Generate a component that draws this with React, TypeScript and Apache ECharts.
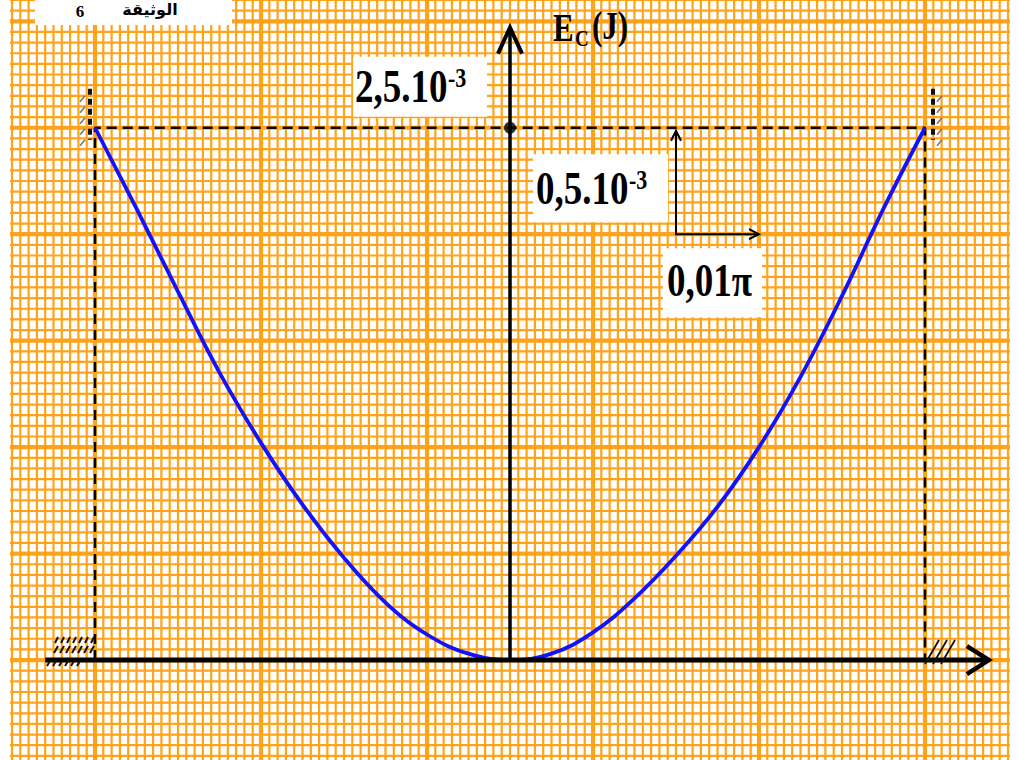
import { useEffect, useRef } from "react";
import * as echarts from "echarts";

// θ in units of 0.01π rad, kinetic energy Ec in units of 10⁻³ J
const thetaUnits = [-5, -4.5, -4, -3.5, -3, -2.5, -2, -1.5, -1, -0.5, 0, 0.5, 1, 1.5, 2, 2.5, 3, 3.5, 4, 4.5, 5];
const ecMilli = [2.5, 2.12, 1.73, 1.35, 1.02, 0.73, 0.48, 0.27, 0.12, 0.03, 0, 0.03, 0.13, 0.29, 0.49, 0.72, 1.0, 1.33, 1.71, 2.12, 2.5];

// Texts
const caption = "الوثيقة";
const captionNumber = "6";
const ecMaxMantissa = "2,5.10";
const ecMaxExponent = "-3";
const yStepMantissa = "0,5.10";
const yStepExponent = "-3";
const xStepLabel = "0,01π";
const yTitleMain = "E";
const yTitleSub = "C";
const yTitleUnit = "(J)";

// Scale key: origin and unit steps (θ in 0.01π, Ec in 10⁻³ J)
const scaleOrigin = [2, 2.0];
const scaleStep = [1, 0.5];

// Visible window of the axes
const X_MIN = -6;
const X_MAX = 6;
const Y_MIN = -0.46;
const Y_MAX = 3.1;

const ORANGE = "#ffa31a";
const SERIF = '"Liberation Serif", "Times New Roman", serif';

export default function App() {
  const ref = useRef<HTMLDivElement>(null);

  useEffect(() => {
    const chart = echarts.init(ref.current!, null, { renderer: "svg" });
    const last = thetaUnits.length - 1;
    const thetaLeft = thetaUnits[0];
    const thetaRight = thetaUnits[last];
    const ecMax = ecMilli[0];

    chart.setOption({
      animation: false,
      backgroundColor: "#ffffff",
      grid: { left: 12, right: 10, top: 0, bottom: 2 },
      xAxis: { type: "value", min: X_MIN, max: X_MAX, show: false },
      yAxis: { type: "value", min: Y_MIN, max: Y_MAX, show: false },
      series: [
        {
          type: "line",
          name: "guides",
          data: [
            [thetaLeft, 0],
            [thetaLeft, ecMax],
            [thetaRight, ecMax],
            [thetaRight, 0],
          ],
          showSymbol: false,
          silent: true,
          z: 3,
          lineStyle: { color: "#000", width: 2.5, type: [10, 6] },
        },
        {
          type: "line",
          name: "Ec",
          data: thetaUnits.map((t, i) => [t, ecMilli[i]]),
          smooth: 0.4,
          showSymbol: false,
          z: 4,
          lineStyle: { color: "#1212ff", width: 3.8 },
        },
        {
          type: "scatter",
          data: [[0, ecMax]],
          symbolSize: 12,
          z: 6,
          itemStyle: { color: "#000" },
        },
      ],
    });

    const px = (u: number, v: number) =>
      chart.convertToPixel({ gridIndex: 0 }, [u, v]) as number[];

    const els: any[] = [];
    const [xLeft] = px(X_MIN, 0);
    const [xRight] = px(X_MAX, 0);

    // graph paper: fine lines every 0.1 (x) and 0.05 (y), heavier ones on the main divisions
    for (let k = 0; k <= 120; k++) {
      const u = X_MIN + k / 10;
      const [x] = px(u, 0);
      const major = k % 10 === 0 && Math.abs(Math.round(u)) % 2 === 1;
      els.push({
        type: "line",
        z: 0,
        silent: true,
        shape: { x1: x, y1: 0, x2: x, y2: 760 },
        style: { stroke: ORANGE, lineWidth: major ? 4.2 : 2.2 },
      });
    }
    for (let k = 0; k <= 71; k++) {
      const v = Math.round((-0.45 + k * 0.05) * 100) / 100;
      const [, y] = px(0, v);
      const major = Math.abs(v * 2 - Math.round(v * 2)) < 1e-6;
      els.push({
        type: "line",
        z: 0,
        silent: true,
        shape: { x1: xLeft - 2, y1: y, x2: xRight + 2, y2: y },
        style: { stroke: ORANGE, lineWidth: major ? 4.2 : 2.2 },
      });
    }

    const box = (x: number, y: number, w: number, h: number) =>
      els.push({ type: "rect", z: 1, shape: { x, y, width: w, height: h }, style: { fill: "#fff" } });
    const text = (
      t: string,
      x: number,
      y: number,
      size: number,
      opts: { bold?: boolean; align?: string; scaleY?: number; family?: string } = {}
    ) =>
      els.push({
        type: "text",
        z: 2,
        x,
        y,
        scaleY: opts.scaleY ?? 1.26,
        style: {
          text: t,
          font: `${opts.bold === false ? "" : "bold "}${size}px ${opts.family ?? SERIF}`,
          fill: "#000",
          align: opts.align ?? "left",
          textAlign: opts.align ?? "left",
          verticalAlign: "top",
          textVerticalAlign: "top",
        },
      });

    // caption at the top-left
    box(35, -2, 197, 27);
    text(captionNumber, 80, 3, 17, { align: "center", scaleY: 1 });
    text(caption, 150, 1, 16, { align: "center", family: '"DejaVu Sans", sans-serif', scaleY: 1 });

    // value label of the maximum
    const [ox, oy] = px(0, ecMax);
    box(ox - 157, oy - 71, 134, 60);
    text(ecMaxMantissa, ox - 155, oy - 65, 37);
    text(ecMaxExponent, ox - 62, oy - 64, 22);

    // axis title
    const [, yTop] = px(0, 2.98);
    text(yTitleMain, ox + 43, yTop - 17, 31);
    text(yTitleSub, ox + 65, yTop + 1, 19);
    text(yTitleUnit, ox + 82, yTop - 19, 31);

    // scale key
    const [sx, sy] = px(scaleOrigin[0], scaleOrigin[1]);
    const [, syTop] = px(scaleOrigin[0], scaleOrigin[1] + scaleStep[1]);
    const [sxRight] = px(scaleOrigin[0] + scaleStep[0], scaleOrigin[1]);
    box(sx - 143, sy - 80, 135, 68);
    text(yStepMantissa, sx - 140, sy - 69, 37);
    text(yStepExponent, sx - 47, sy - 68, 22);
    box(sx - 13, sy + 14, 99, 69);
    text(xStepLabel, sx - 9, sy + 23, 37);
    const thin = { stroke: "#000", lineWidth: 2, fill: "none" };
    els.push({ type: "polyline", z: 4, shape: { points: [[sx, syTop + 4], [sx, sy], [sxRight, sy]] }, style: thin });
    els.push({ type: "polyline", z: 4, shape: { points: [[sx - 5, syTop + 13], [sx, syTop + 3], [sx + 5, syTop + 13]] }, style: thin });
    els.push({ type: "polyline", z: 4, shape: { points: [[sxRight - 10, sy - 5], [sxRight, sy], [sxRight - 10, sy + 5]] }, style: thin });

    // axes with open arrowheads
    const [, y0] = px(0, 0);
    const [xAxStart] = px(-5.6, 0);
    const [xAxEnd] = px(5.77, 0);
    const axis = { stroke: "#000", lineWidth: 5, fill: "none" };
    els.push({ type: "line", z: 5, shape: { x1: xAxStart, y1: y0, x2: xAxEnd, y2: y0 }, style: axis });
    els.push({
      type: "polyline",
      z: 5,
      shape: { points: [[xAxEnd - 22, y0 - 14], [xAxEnd, y0], [xAxEnd - 22, y0 + 14]] },
      style: { ...axis, lineWidth: 4.5 },
    });
    els.push({ type: "line", z: 5, shape: { x1: ox, y1: y0, x2: ox, y2: yTop + 2 }, style: { ...axis, lineWidth: 3.5 } });
    els.push({
      type: "polyline",
      z: 5,
      shape: { points: [[ox - 12, yTop + 28], [ox, yTop + 2], [ox + 12, yTop + 28]] },
      style: { ...axis, lineWidth: 4 },
    });

    // supports at the turning points
    const [lx, ly] = px(thetaLeft, ecMax);
    const [rx] = px(thetaRight, ecMax);
    const dashBar = { stroke: "#111", lineWidth: 4, lineDash: [6, 4] };
    els.push({ type: "line", z: 5, shape: { x1: lx - 5, y1: ly - 39, x2: lx - 5, y2: ly + 12 }, style: dashBar });
    els.push({ type: "line", z: 5, shape: { x1: rx + 8, y1: ly - 39, x2: rx + 8, y2: ly + 12 }, style: dashBar });
    const hatch = { stroke: "#777", lineWidth: 1.6 };
    for (let i = 0; i < 5; i++) {
      const yy = ly - 32 + i * 11;
      els.push({ type: "line", z: 5, shape: { x1: lx - 15, y1: yy + 6, x2: lx - 10, y2: yy }, style: hatch });
      els.push({ type: "line", z: 5, shape: { x1: rx + 12, y1: yy + 6, x2: rx + 17, y2: yy }, style: hatch });
    }
    const hatchDark = { stroke: "#111", lineWidth: 2 };
    for (let i = 0; i < 7; i++) {
      const hx = lx - 40 + i * 6;
      els.push({ type: "line", z: 5, shape: { x1: hx, y1: y0 - 17, x2: hx + 3, y2: y0 - 23 }, style: hatchDark });
      els.push({ type: "line", z: 5, shape: { x1: hx - 1, y1: y0 - 7, x2: hx + 3, y2: y0 - 14 }, style: hatchDark });
      if (i < 6) els.push({ type: "line", z: 5, shape: { x1: hx - 8, y1: y0 + 6, x2: hx - 5, y2: y0 + 1 }, style: hatchDark });
    }
    for (let i = 0; i < 3; i++) {
      const hx = rx + i * 8;
      els.push({ type: "line", z: 5, shape: { x1: hx, y1: y0 + 4, x2: hx + 14, y2: y0 - 20 }, style: { stroke: "#111", lineWidth: 1.8 } });
    }

    chart.setOption({ graphic: { elements: els } });

    return () => chart.dispose();
  }, []);

  return (
    <div
      ref={ref}
      style={{ position: "fixed", left: 0, top: 0, width: 1018, height: 760, background: "#fff" }}
    />
  );
}
